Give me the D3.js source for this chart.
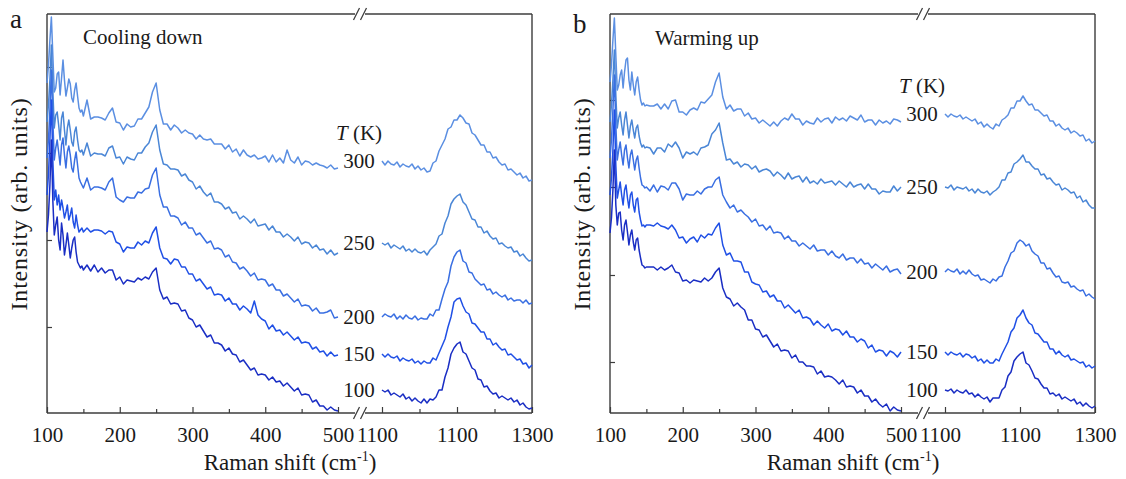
<!DOCTYPE html>
<html>
<head>
<meta charset="utf-8">
<script src="https://cdn.jsdelivr.net/npm/d3@7"></script>
<style>
  body { margin: 0; background: #fff; }
  text { font-family: "Liberation Serif", "Times New Roman", serif; fill: #1a1a1a; }
</style>
</head>
<body>
<div id="chart"></div>
<script>
// Raman shift grids (cm-1), low and high segment of the broken axis
var shiftLow = [100,102,104,106,108,110,112,114,116,118,120,122,124,126,128,130,132,134,136,138,140,142,144,146,148,150,
  155,160,165,170,175,180,185,190,195,200,205,210,215,220,225,230,235,240,245,250,255,260,265,270,275,280,285,290,295,300,
  305,310,315,320,325,330,335,340,345,350,355,360,365,370,375,380,385,390,395,400,405,410,415,420,425,430,435,440,445,450,
  455,460,465,470,475,480,485,490,495,500];
var shiftHigh = [900,908,916,924,932,940,948,956,964,972,980,988,996,1004,1012,1020,1028,1036,1044,1052,1060,1068,1076,1084,
  1092,1100,1108,1116,1124,1132,1140,1148,1156,1164,1172,1180,1188,1196,1204,1212,1220,1228,1236,1244,1252,1260,1268,1276,
  1284,1292,1300];

var lowTicks = [100, 200, 300, 400, 500];
var lowMinorTicks = [150, 250, 350, 450];
var highTicks = [900, 1100, 1300];
var highTickLabels = ["1100", "1100", "1300"];
var highMinorTicks = [1000, 1200];

var temps = [300, 250, 200, 150, 100];

// intensity (arb. units), offset traces
var coolYTicks = [86, 173, 260, 346];
var warmYTicks = [51, 138, 226, 313];

var coolLow300 = [330,348,373,396,358,321,325,339,341,318,335,353,333,317,325,334,329,315,311,323,330,317,305,301,303,297,
  313,294,296,296,295,293,300,305,291,290,283,289,286,287,294,294,300,306,321,330,303,289,289,283,288,285,280,283,280,279,
  274,278,274,273,274,269,269,269,264,268,261,264,257,263,258,256,258,254,255,257,251,258,251,255,250,263,253,250,256,248,
  252,251,248,250,248,247,245,248,244,245];
var coolLow250 = [291,308,333,368,323,285,298,301,288,273,295,301,283,268,285,293,283,271,267,281,286,273,263,261,263,258,
  270,257,260,259,259,257,265,267,255,256,249,256,254,253,260,260,266,270,281,288,263,249,248,244,244,243,237,239,233,231,
  224,227,221,217,220,211,211,209,204,206,200,201,194,197,194,190,194,187,188,189,183,187,181,181,176,179,176,172,176,169,
  171,170,165,168,163,164,159,163,158,160];
var coolLow200 = [255,273,303,343,293,253,265,273,261,248,268,275,258,245,261,267,258,245,241,253,261,248,235,231,228,225,
  235,223,226,226,225,223,231,235,216,213,211,216,215,215,221,220,224,225,238,245,218,206,206,197,197,195,188,191,185,185,
  178,180,175,170,172,164,165,163,156,158,151,150,144,146,142,137,140,133,134,133,127,129,123,123,117,119,115,111,114,107,
  108,107,102,105,100,100,101,103,95,96];
var coolLow150 = [218,238,273,313,253,213,223,208,218,203,213,205,195,201,208,193,198,205,191,185,198,188,181,183,185,181,
  185,181,183,183,182,179,182,181,171,169,161,166,165,165,171,168,172,170,180,186,165,155,154,149,154,153,146,146,139,139,
  132,134,129,124,126,118,119,118,112,115,109,109,103,107,104,100,112,98,94,92,84,88,82,83,78,81,77,73,76,70,
  71,70,64,66,61,62,57,61,57,58];
var coolLow100 = [181,198,228,273,213,178,188,196,173,163,190,178,158,168,180,168,155,165,173,176,161,151,148,145,147,143,
  148,142,148,141,145,140,143,143,133,136,129,133,132,131,135,133,136,134,141,145,123,114,116,109,110,109,102,103,95,93,
  86,88,82,76,78,70,70,68,62,65,59,58,51,53,48,43,45,38,39,38,33,36,31,32,27,30,26,22,25,18,
  19,18,11,13,7,7,3,6,3,2];

var coolHigh300 = [252,248,252,249,248,251,246,249,247,246,249,244,247,243,245,241,242,250,252,262,268,274,284,286,293,293,
  298,295,290,289,280,278,273,268,268,261,261,255,256,251,248,249,243,244,241,238,240,235,237,232,233];
var coolHigh250 = [170,168,170,165,168,166,164,167,162,164,161,164,161,160,162,158,163,166,169,177,179,190,197,209,214,217,
  219,211,208,201,194,193,186,186,180,182,177,174,175,169,170,167,165,166,161,162,157,159,155,152,153];
var coolHigh200 = [96,99,97,96,99,94,97,94,98,95,94,97,93,95,94,94,99,97,103,103,114,124,131,147,156,161,
  163,152,150,141,140,134,131,128,129,123,124,119,121,118,116,118,113,115,112,113,113,110,113,109,110];
var coolHigh150 = [59,56,59,56,55,57,52,55,53,52,54,50,52,49,52,50,50,55,53,60,67,74,86,96,111,114,
  115,107,101,99,90,89,85,81,81,74,74,68,70,66,63,64,58,59,56,53,54,49,50,45,48];
var coolHigh100 = [23,21,23,18,20,18,16,19,14,16,12,15,12,10,14,10,14,13,16,23,23,36,45,59,65,69,
  71,61,59,52,45,43,34,33,26,27,22,19,20,15,17,15,13,15,11,13,8,10,6,4,5];

var warmLow300 = [331,348,373,395,358,323,328,338,343,325,341,353,355,333,323,341,328,318,331,336,323,313,308,310,307,308,
  307,307,309,304,309,304,312,313,301,301,298,303,305,303,311,310,314,318,331,340,316,304,308,302,304,304,297,300,294,295,
  290,293,290,287,291,287,292,295,293,299,294,294,288,292,290,289,295,291,294,295,290,296,293,295,292,297,295,293,298,291,
  293,293,288,293,290,292,289,294,293,291];
var warmLow250 = [291,308,333,363,318,285,295,301,288,278,293,301,288,275,287,293,283,275,285,288,277,270,266,268,265,266,
  265,259,265,265,261,269,266,271,265,255,261,259,261,258,265,266,268,279,283,290,270,253,254,249,251,246,249,248,244,247,
  241,243,244,242,237,241,238,234,240,234,236,237,231,236,230,232,229,234,230,231,232,228,232,229,226,231,226,228,229,224,
  229,224,224,219,222,221,221,227,222,226];
var warmLow200 = [255,273,303,338,288,253,263,271,258,248,263,268,255,245,258,263,253,243,253,257,245,235,228,227,225,226,
  222,228,221,227,226,223,230,230,224,213,219,218,218,222,219,224,226,226,233,236,218,211,205,208,201,203,199,196,191,194,
  187,188,183,187,180,181,180,174,177,172,172,167,170,167,164,168,162,163,163,158,162,157,155,159,153,155,155,150,154,149,
  150,145,149,146,143,147,141,143,144,139];
var warmLow150 = [218,235,263,303,248,215,223,231,218,208,223,228,215,205,218,221,208,201,213,215,201,193,187,188,186,188,
  188,187,190,187,186,184,188,183,175,176,170,174,176,171,178,175,179,178,185,190,168,158,160,152,152,151,141,141,131,129,
  128,121,122,116,118,112,112,105,108,104,100,103,95,96,94,88,92,88,85,89,82,84,83,78,82,76,76,71,74,72,
  65,68,61,63,62,57,62,60,56,61];
var warmLow100 = [180,195,223,263,208,188,200,201,183,173,188,193,181,168,178,183,171,163,173,175,163,155,148,147,145,146,
  146,146,143,146,143,145,148,141,140,132,133,130,133,132,131,135,132,135,141,145,125,116,114,107,110,106,103,93,93,84,
  83,76,78,72,66,69,62,63,62,55,58,51,51,47,47,46,39,42,36,37,36,33,29,33,26,27,26,20,23,17,
  17,11,14,9,6,9,2,6,3,2];

var warmHigh300 = [299,296,299,297,296,298,294,296,294,292,294,289,291,286,289,286,284,289,287,293,295,298,305,305,312,312,
  317,312,308,309,303,303,300,297,298,292,292,287,289,285,283,285,280,282,280,277,278,272,274,270,272];
var warmHigh250 = [226,225,228,223,226,225,224,226,222,224,220,224,221,220,222,218,221,223,226,233,233,240,241,249,251,254,
  258,251,251,247,244,244,238,239,234,235,231,228,229,223,225,223,220,221,215,217,211,213,208,205,205];
var warmHigh200 = [141,144,142,141,144,139,142,139,143,139,137,138,133,134,132,130,134,132,136,137,146,152,160,162,170,173,
  171,167,169,162,159,157,150,150,144,145,140,136,137,131,130,131,126,127,124,122,123,117,119,116,114];
var warmHigh150 = [61,58,61,59,58,60,56,59,58,55,57,52,54,50,53,50,50,54,52,59,65,71,81,85,95,98,
  103,95,90,88,80,79,75,71,71,64,64,59,62,58,56,58,53,54,52,50,51,46,48,45,47];
var warmHigh100 = [23,22,24,20,23,21,20,23,19,20,16,19,16,14,16,11,15,15,15,23,26,37,41,52,56,59,
  61,50,48,42,35,34,29,25,25,19,20,17,19,14,16,14,12,14,9,11,7,10,7,5,7];

var seriesColors = ["#5b8fe2", "#4a86d6", "#3a6fe2", "#2050e6", "#1a2ec4"];

var panels = [
  { letter: "a", title: "Cooling down", left: 47, letterY: 28, titleX: 36, titleY: 44, yTicks: coolYTicks,
    low: [coolLow300, coolLow250, coolLow200, coolLow150, coolLow100],
    high: [coolHigh300, coolHigh250, coolHigh200, coolHigh150, coolHigh100] },
  { letter: "b", title: "Warming up", left: 610, letterY: 33, titleX: 45, titleY: 45, yTicks: warmYTicks,
    low: [warmLow300, warmLow250, warmLow200, warmLow150, warmLow100],
    high: [warmHigh300, warmHigh250, warmHigh200, warmHigh150, warmHigh100] }
];

var svgWidth = 1126;
var svgHeight = 479;
var plotTop = 14, plotBottom = 413;
var frameColor = "#3c3c3c";

var svg = d3.select("#chart")
  .append("svg")
  .attr("width", svgWidth)
  .attr("height", svgHeight);

panels.forEach(function(p) {
  var g = svg.append("g").attr("transform", `translate(${p.left}, 0)`);

  var xLow = d3.scaleLinear().domain([100, 500]).range([0, 291]);
  var xHigh = d3.scaleLinear().domain([900, 1300]).range([335, 485]);
  var y = d3.scaleLinear().domain([0, 399]).range([plotBottom, plotTop]);
  var breakX = 313;
  var right = 485;

  // frame with axis break
  [plotTop, plotBottom].forEach(function(yy) {
    g.append("line").attr("x1", 0).attr("x2", breakX - 5).attr("y1", yy).attr("y2", yy)
      .attr("stroke", frameColor).attr("stroke-width", 1.4);
    g.append("line").attr("x1", breakX + 5).attr("x2", right).attr("y1", yy).attr("y2", yy)
      .attr("stroke", frameColor).attr("stroke-width", 1.4);
    [-3.5, 3.5].forEach(function(d) {
      g.append("line")
        .attr("x1", breakX + d - 3).attr("y1", yy + 6)
        .attr("x2", breakX + d + 3).attr("y2", yy - 6)
        .attr("stroke", frameColor).attr("stroke-width", 1.3);
    });
  });
  g.append("line").attr("x1", 0).attr("x2", 0).attr("y1", plotTop).attr("y2", plotBottom)
    .attr("stroke", frameColor).attr("stroke-width", 1.4);
  g.append("line").attr("x1", right).attr("x2", right).attr("y1", plotTop).attr("y2", plotBottom)
    .attr("stroke", frameColor).attr("stroke-width", 1.4);

  // x axes
  function styleAxis(sel) {
    sel.select(".domain").remove();
    sel.selectAll(".tick line").attr("stroke", frameColor).attr("stroke-width", 1.2);
    sel.attr("font-family", null).attr("font-size", 21);
    sel.selectAll("text").style("fill", "#1a1a1a");
  }

  g.append("g").attr("transform", `translate(0, ${plotBottom})`)
    .call(d3.axisBottom(xLow).tickValues(lowTicks).tickSizeInner(-6).tickSizeOuter(0).tickPadding(14))
    .call(styleAxis);
  g.append("g").attr("transform", `translate(0, ${plotBottom})`)
    .call(d3.axisBottom(xLow).tickValues(lowMinorTicks).tickSizeInner(-4).tickSizeOuter(0).tickFormat(""))
    .call(styleAxis);
  var hx = g.append("g").attr("transform", `translate(0, ${plotBottom})`)
    .call(d3.axisBottom(xHigh).tickValues(highTicks).tickSizeInner(-6).tickSizeOuter(0).tickPadding(14)
      .tickFormat(function(d, i) { return highTickLabels[i]; }))
    .call(styleAxis);
  hx.selectAll(".tick text").filter(function(d, i) { return i === 0; }).attr("dx", -5);
  g.append("g").attr("transform", `translate(0, ${plotBottom})`)
    .call(d3.axisBottom(xHigh).tickValues(highMinorTicks).tickSizeInner(-4).tickSizeOuter(0).tickFormat(""))
    .call(styleAxis);

  // y axis ticks (no labels)
  g.append("g")
    .call(d3.axisLeft(y).tickValues(p.yTicks).tickSizeInner(-5).tickSizeOuter(0).tickFormat(""))
    .call(styleAxis);

  // spectra
  var lineLow = d3.line()
    .x(function(d, i) { return xLow(shiftLow[i]); })
    .y(function(d) { return y(d); });
  var lineHigh = d3.line()
    .x(function(d, i) { return xHigh(shiftHigh[i]); })
    .y(function(d) { return y(d); });

  temps.forEach(function(t, k) {
    g.append("path")
      .attr("d", lineLow(p.low[k].slice(0, shiftLow.length)))
      .attr("fill", "none")
      .attr("stroke", seriesColors[k])
      .attr("stroke-width", 1.5)
      .attr("stroke-linejoin", "round");
    g.append("path")
      .attr("d", lineHigh(p.high[k].slice(0, shiftHigh.length)))
      .attr("fill", "none")
      .attr("stroke", seriesColors[k])
      .attr("stroke-width", 1.5)
      .attr("stroke-linejoin", "round");

    g.append("text")
      .attr("x", breakX - 1)
      .attr("y", y(p.high[k][0]))
      .attr("dy", "0.35em")
      .attr("text-anchor", "middle")
      .attr("font-size", 21)
      .text(t);
  });

  // T (K) heading
  var tk = g.append("text")
    .attr("x", breakX - 1)
    .attr("y", y(p.high[0][0]) + 7 - 28)
    .attr("text-anchor", "middle")
    .attr("font-size", 21);
  tk.append("tspan").attr("font-style", "italic").text("T");
  tk.append("tspan").text(" (K)");

  // panel letter and title
  g.append("text")
    .attr("x", -37)
    .attr("y", p.letterY)
    .attr("font-size", 27)
    .text(p.letter);
  g.append("text")
    .attr("x", p.titleX)
    .attr("y", p.titleY)
    .attr("font-size", 21)
    .text(p.title);

  // axis titles
  g.append("text")
    .attr("transform", "rotate(-90)")
    .attr("x", -204)
    .attr("y", -20)
    .attr("text-anchor", "middle")
    .attr("font-size", 24)
    .attr("letter-spacing", 0.8)
    .text("Intensity (arb. units)");

  var xt = g.append("text")
    .attr("x", 243)
    .attr("y", 470)
    .attr("text-anchor", "middle")
    .attr("font-size", 23);
  xt.append("tspan").text("Raman shift (cm");
  xt.append("tspan").attr("font-size", 14).attr("dy", -9).text("-1");
  xt.append("tspan").attr("dy", 9).text(")");
});
</script>
</body>
</html>
